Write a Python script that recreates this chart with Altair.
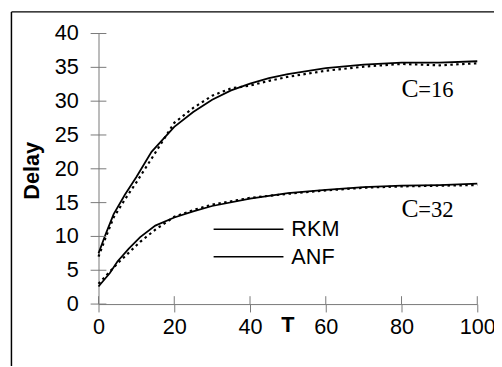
import altair as alt
import pandas as pd

# ---- data ----
T16 = [0, 2, 4, 7, 10, 14, 20, 25, 30, 35, 40, 45, 50, 60, 70, 80, 90, 100]
rkm16 = [7.5, 10.5, 13.3, 16.2, 18.8, 22.5, 26.2, 28.4, 30.2, 31.6, 32.6, 33.4, 34.0, 34.9, 35.4, 35.7, 35.7, 35.9]
anf16 = [7.0, 10.0, 12.8, 15.5, 18.0, 21.5, 26.8, 29.0, 30.8, 31.9, 32.3, 33.0, 33.6, 34.5, 35.1, 35.5, 35.3, 35.6]

T32 = [0, 3, 5, 8, 11, 15, 20, 25, 30, 40, 50, 60, 70, 80, 90, 100]
rkm32 = [2.6, 4.6, 6.3, 8.2, 9.9, 11.6, 12.8, 13.7, 14.5, 15.6, 16.4, 16.9, 17.3, 17.5, 17.6, 17.8]
anf32 = [3.0, 4.8, 6.0, 7.6, 9.2, 11.0, 12.9, 13.9, 14.7, 15.7, 16.3, 16.8, 17.2, 17.4, 17.5, 17.6]

x_ticks = [0, 20, 40, 60, 80, 100]
y_ticks = [0, 5, 10, 15, 20, 25, 30, 35, 40]
y_tick_labels = ["0", "5", "10", "15", "20", "25", "30", "35", "40"]

legend_labels = ["RKM", "ANF"]
annot_T = [80, 80]
annot_D = [31.8, 14.0]
annot_main = ["C", "C"]
annot_sub = ["=16", "=32"]

rows = []
for t, v in zip(T16, rkm16):
    rows.append({"T": t, "D": v, "s": "RKM16", "m": "RKM"})
for t, v in zip(T16, anf16):
    rows.append({"T": t, "D": v, "s": "ANF16", "m": "ANF"})
for t, v in zip(T32, rkm32):
    rows.append({"T": t, "D": v, "s": "RKM32", "m": "RKM"})
for t, v in zip(T32, anf32):
    rows.append({"T": t, "D": v, "s": "ANF32", "m": "ANF"})
df = pd.DataFrame(rows)

xs = alt.Scale(domain=[0, 100], nice=False, zero=False)
ys = alt.Scale(domain=[0, 40], nice=False, zero=False)
FONT = "Liberation Sans"
GRAY = "#777777"
FS = 22

base = alt.Chart(df)

solid = base.transform_filter(alt.datum.m == "RKM").mark_line(
    color="black", strokeWidth=1.8
).encode(
    x=alt.X("T:Q", scale=xs, axis=alt.Axis(
        values=x_ticks, grid=False, domainColor=GRAY, tickColor=GRAY,
        tickSize=8, labelPadding=5, labelFont=FONT, labelFontSize=FS,
        labelColor="black", labelOverlap=False, labelFlush=False,
        title="T", titleFont=FONT, titleFontSize=FS,
        titleFontWeight="bold", titleX=192, titleY=21, titleBaseline="middle")),
    y=alt.Y("D:Q", scale=ys, axis=alt.Axis(
        grid=False, domainColor=GRAY, ticks=False, labels=False,
        title="Delay", titleFont=FONT, titleFontSize=FS,
        titleFontWeight="bold", titleX=-68, titleY=139, titleAngle=270,
        titleBaseline="middle", titleAlign="center")),
    detail="s:N",
)

dotted = base.transform_filter(alt.datum.m == "ANF").mark_line(
    color="black", strokeWidth=2.2, strokeDash=[2.5, 3.5]
).encode(x=alt.X("T:Q", scale=xs), y=alt.Y("D:Q", scale=ys), detail="s:N")

# inner halves of crossing x ticks
xt = alt.Chart(pd.DataFrame({"T": x_ticks})).mark_rule(color=GRAY, strokeWidth=1).encode(
    x=alt.X("T:Q", scale=xs), y=alt.value(267), y2=alt.value(275))
# full crossing y ticks and their labels
ydf = pd.DataFrame({"D": y_ticks, "lab": y_tick_labels})
yt = alt.Chart(ydf).mark_rule(color=GRAY, strokeWidth=1).encode(
    y=alt.Y("D:Q", scale=ys), x=alt.value(-8), x2=alt.value(8))
ylab = alt.Chart(ydf).mark_text(
    align="right", baseline="middle", font=FONT, fontSize=FS, color="black"
).encode(y=alt.Y("D:Q", scale=ys), x=alt.value(-20), text="lab:N")

# legend (both drawn solid as in the original)
legend_layers = []
for i, lab in enumerate(legend_labels):
    py = 199 + 28 * i
    legend_layers.append(
        alt.Chart(pd.DataFrame({"a": [0]})).mark_rule(color="black", strokeWidth=1.5).encode(
            x=alt.value(117), x2=alt.value(188), y=alt.value(py)))
    legend_layers.append(
        alt.Chart(pd.DataFrame({"a": [0]})).mark_text(
            align="left", baseline="middle", font=FONT, fontSize=FS, color="black", text=lab
        ).encode(x=alt.value(196), y=alt.value(py)))

# annotations C=16 / C=32
ann_df = pd.DataFrame({"T": annot_T, "D": annot_D, "c": annot_main, "n": annot_sub})
ann_c = alt.Chart(ann_df).mark_text(
    align="left", baseline="middle", font="Liberation Serif", fontSize=26, color="black"
).encode(x=alt.X("T:Q", scale=xs), y=alt.Y("D:Q", scale=ys), text="c:N")
ann_n = alt.Chart(ann_df).mark_text(
    align="left", baseline="middle", font="Liberation Serif", fontSize=23, color="black",
    dx=17, dy=1
).encode(x=alt.X("T:Q", scale=xs), y=alt.Y("D:Q", scale=ys), text="n:N")

# outer frame (cropped by the picture's edges)
frame_l = alt.Chart(pd.DataFrame({"a": [0]})).mark_rule(color="black", strokeWidth=1.5).encode(
    x=alt.value(-88.5), y=alt.value(-22), y2=alt.value(400))
frame_t = alt.Chart(pd.DataFrame({"a": [0]})).mark_rule(color="black", strokeWidth=1.5).encode(
    x=alt.value(-88.5), x2=alt.value(600), y=alt.value(-22))

chart = alt.layer(
    solid, frame_l, frame_t, xt, yt, ylab, dotted, *legend_layers, ann_c, ann_n
).properties(
    width=385, height=275,
    autosize=alt.AutoSizeParams(type="none"),
    padding={"left": 92, "top": 23, "right": 17, "bottom": 60},
).configure_view(stroke=None)

chart.save("out.html", embed_options={"renderer": "svg", "actions": False})
